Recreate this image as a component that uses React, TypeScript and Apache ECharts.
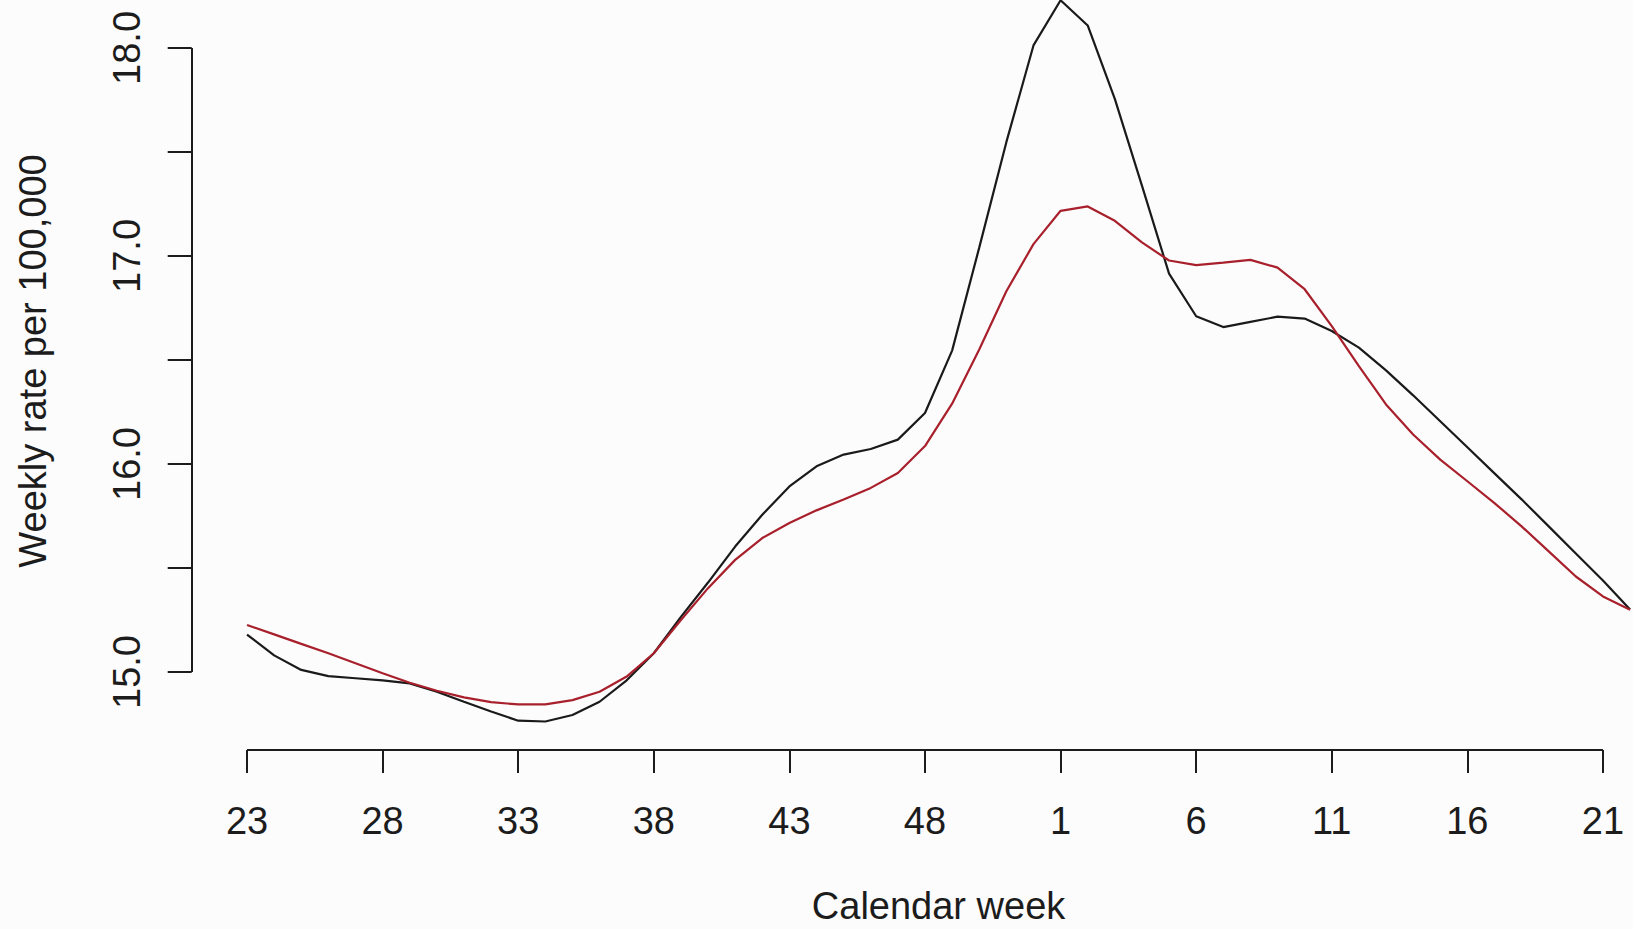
import React, { useEffect, useRef } from "react";
import * as echarts from "echarts";

// Calendar weeks (x categories), from week 23 to week 22 of the following year
const weeks = [
  23, 24, 25, 26, 27, 28, 29, 30, 31, 32, 33, 34, 35, 36, 37, 38, 39, 40, 41, 42,
  43, 44, 45, 46, 47, 48, 49, 50, 51, 52, 1, 2, 3, 4, 5, 6, 7, 8, 9, 10, 11, 12,
  13, 14, 15, 16, 17, 18, 19, 20, 21, 22,
];

// Black series (weekly rate per 100,000)
const blackSeries = [
  15.18, 15.08, 15.01, 14.98, 14.97, 14.96, 14.945, 14.905, 14.857, 14.81,
  14.766, 14.762, 14.793, 14.857, 14.96, 15.09, 15.265, 15.43, 15.603, 15.756,
  15.892, 15.989, 16.045, 16.072, 16.117, 16.245, 16.545, 17.04, 17.547, 18.012,
  18.229, 18.108, 17.755, 17.338, 16.915, 16.71, 16.658, 16.683, 16.708, 16.699,
  16.639, 16.559, 16.45, 16.33, 16.205, 16.08, 15.955, 15.83, 15.7, 15.57,
  15.44, 15.3,
];

// Red series (weekly rate per 100,000)
const redSeries = [
  15.226, 15.181, 15.135, 15.09, 15.042, 14.994, 14.948, 14.91, 14.878, 14.855,
  14.844, 14.844, 14.865, 14.905, 14.978, 15.09, 15.25, 15.403, 15.539, 15.644,
  15.716, 15.777, 15.829, 15.885, 15.957, 16.086, 16.29, 16.55, 16.83, 17.057,
  17.217, 17.238, 17.169, 17.065, 16.978, 16.956, 16.968, 16.981, 16.944, 16.84,
  16.663, 16.47, 16.286, 16.142, 16.021, 15.917, 15.812, 15.7, 15.58, 15.459,
  15.363, 15.299,
];

// Tick positions (indices into weeks) and y ticks
const xTickIdx = [0, 5, 10, 15, 20, 25, 30, 35, 40, 45, 50];
const yTicks = [15, 15.5, 16, 16.5, 17, 17.5, 18];
const yLabels = [15, 16, 17, 18];

const X_MIN = -2.04;
const X_MAX = 53.04;
const Y_MIN = 14.625;
const Y_MAX = 18.365;

const FONT = "'Liberation Sans', Arial, Helvetica, sans-serif";
const INK = "#1c1c1c";

export default function App() {
  const ref = useRef<HTMLDivElement>(null);

  useEffect(() => {
    document.body.style.margin = "0";
    const chart = echarts.init(ref.current!, null, { renderer: "svg" });
    const axisLineSeries = {
      type: "line",
      data: [],
      silent: true,
      markLine: {
        silent: true,
        symbol: ["none", "none"],
        label: { show: false },
        lineStyle: { color: INK, width: 2, type: "solid" },
        emphasis: { disabled: true },
        animation: false,
        data: [
          [
            { coord: [xTickIdx[0], Y_MIN] },
            { coord: [xTickIdx[xTickIdx.length - 1], Y_MIN] },
          ],
          [
            { coord: [X_MIN, yTicks[0]] },
            { coord: [X_MIN, yTicks[yTicks.length - 1]] },
          ],
        ],
      },
    };
    chart.setOption({
      animation: false,
      backgroundColor: "#fcfcfc",
      grid: {
        left: 191.7,
        right: 0.6,
        top: 0,
        bottom: 179,
        containLabel: false,
        outerBoundsMode: "none",
      },
      xAxis: {
        type: "value",
        min: X_MIN,
        max: X_MAX,
        name: "Calendar week",
        nameLocation: "middle",
        nameGap: 138,
        nameMoveOverlap: false,
        nameTextStyle: { fontFamily: FONT, fontSize: 38, lineHeight: 36, color: INK },
        axisLine: { show: false, onZero: false },
        splitLine: { show: false },
        axisTick: {
          show: true,
          customValues: xTickIdx,
          length: 23,
          lineStyle: { color: INK, width: 2 },
        },
        axisLabel: {
          show: true,
          customValues: xTickIdx,
          formatter: (v: number) => String(weeks[Math.round(v)]),
          margin: 52,
          fontFamily: FONT,
          fontSize: 38,
          color: INK,
        },
      },
      yAxis: {
        type: "value",
        min: Y_MIN,
        max: Y_MAX,
        name: "Weekly rate per 100,000",
        nameLocation: "middle",
        nameRotate: 90,
        nameGap: 140,
        nameMoveOverlap: false,
        nameTextStyle: { fontFamily: FONT, fontSize: 38, color: INK },
        axisLine: { show: false, onZero: false },
        splitLine: { show: false },
        axisTick: {
          show: true,
          customValues: yTicks,
          length: 24,
          lineStyle: { color: INK, width: 2 },
        },
        axisLabel: {
          show: true,
          customValues: yLabels,
          rotate: 90,
          formatter: (v: number) => v.toFixed(1),
          margin: 46,
          fontFamily: FONT,
          fontSize: 38,
          color: INK,
        },
      },
      series: [
        {
          type: "line",
          name: "black",
          data: blackSeries.map((v, i) => [i, v]),
          showSymbol: false,
          symbol: "none",
          lineStyle: { color: "#1a1a1a", width: 2.2 },
          clip: false,
        },
        {
          type: "line",
          name: "red",
          data: redSeries.map((v, i) => [i, v]),
          showSymbol: false,
          symbol: "none",
          lineStyle: { color: "#a8202c", width: 2.2 },
          clip: false,
        },
        axisLineSeries,
      ],
    });
    return () => chart.dispose();
  }, []);

  return (
    <div
      style={{
        position: "absolute",
        left: 0,
        top: 0,
        width: 1633,
        height: 929,
        overflow: "hidden",
        background: "#fcfcfc",
      }}
    >
      <div
        ref={ref}
        style={{ position: "absolute", left: 0, top: -28, width: 1686, height: 957 }}
      />
    </div>
  );
}
